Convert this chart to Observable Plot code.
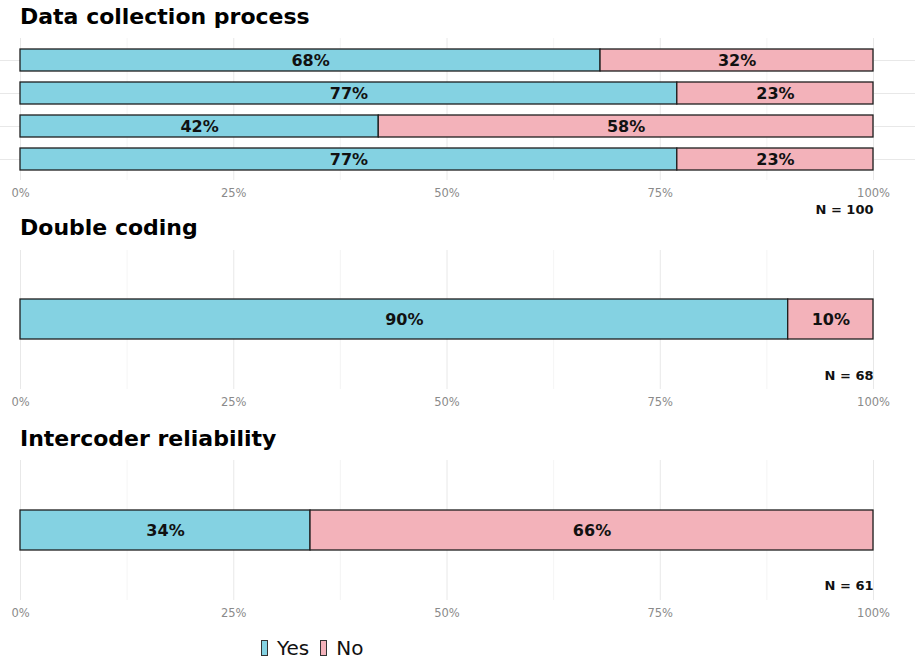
<!DOCTYPE html>
<html>
<head>
<meta charset="utf-8">
<script src="https://cdn.jsdelivr.net/npm/d3@7"></script>
<script src="https://cdn.jsdelivr.net/npm/@observablehq/plot@0.6"></script>
<style>
  body { margin: 0; background: #fff; font-family: "DejaVu Sans", sans-serif; }
  #root { position: relative; width: 915px; height: 659px; overflow: hidden; background: #fff; }
  .title { position: absolute; left: 20px; font-weight: bold; font-size: 22px; line-height: 22px; color: #000; white-space: nowrap; }
  .panel { position: absolute; left: 0; }
  .legend { position: absolute; left: 261px; top: 636px; height: 24px; display: flex; align-items: center; font-size: 20px; color: #111; }
  .sw { width: 5px; height: 14px; border: 1px solid #333; box-sizing: content-box; }
  .lab { margin-left: 9px; margin-right: 11px; }
</style>
</head>
<body>
<div id="root"></div>
<script>
// ---- data ----
const responses = ["Yes", "No"];
const responseColors = ["#84d2e2", "#f3b2ba"];
const panelTitles = ["Data collection process", "Double coding", "Intercoder reliability"];
const nLabels = ["N = 100", "N = 68", "N = 61"];
const xTicks = [0, 25, 50, 75, 100];
const xMinorTicks = [12.5, 37.5, 62.5, 87.5];

const dataCollectionItems = ["Item 1", "Item 2", "Item 3", "Item 4"];
const dataCollectionYes = [68, 77, 42, 77];
const dataCollectionNo = [32, 23, 58, 23];

const doubleCodingItems = ["Double coding"];
const doubleCodingYes = [90];
const doubleCodingNo = [10];

const intercoderItems = ["Intercoder reliability"];
const intercoderYes = [34];
const intercoderNo = [66];

// ---- layout ----
const root = document.getElementById("root");

function rowsFor(items, yes, no) {
  return items.flatMap((it, i) => [
    {item: it, response: "Yes", value: yes[i]},
    {item: it, response: "No", value: no[i]}
  ]);
}

function panel({items, yes, no, nLabel, top, height, marginTop, marginBottom, paddingInner, paddingOuter, hGrid, nDy}) {
  const rows = rowsFor(items, yes, no);
  const svg = Plot.plot({
    width: 915,
    height,
    marginLeft: 20,
    marginRight: 42,
    marginTop,
    marginBottom,
    style: {fontFamily: "DejaVu Sans", fontSize: "11.5px", background: "transparent", overflow: "visible"},
    x: {domain: [0, 100], axis: null, label: null},
    y: {domain: items, axis: null, label: null, paddingInner, paddingOuter},
    color: {domain: responses, range: responseColors},
    marks: [
      Plot.ruleX(xMinorTicks, {stroke: "#efefef", strokeWidth: 0.7}),
      Plot.ruleX(xTicks, {stroke: "#e8e8e8", strokeWidth: 1}),
      hGrid ? Plot.ruleY(items, {stroke: "#e8e8e8", strokeWidth: 1, insetLeft: -20, insetRight: -42}) : null,
      Plot.barX(rows, Plot.stackX({x: "value", y: "item", fill: "response", order: responses, stroke: "#1e1e1e", strokeWidth: 1.3})),
      Plot.text(rows, Plot.stackX({x: "value", y: "item", z: "response", order: responses, text: d => d.value + "%", fontWeight: "bold", fontSize: 16, fill: "#111"})),
      Plot.axisX(xTicks, {tickFormat: d => d + "%", tickSize: 0, tickPadding: 8, color: "#8a8a8a", label: null}),
      Plot.text([nLabel], {frameAnchor: "bottom-right", dy: nDy, textAnchor: "end", fontWeight: "bold", fontSize: 13, fill: "#111"})
    ]
  });
  const wrap = document.createElement("div");
  wrap.className = "panel";
  wrap.style.top = top + "px";
  wrap.appendChild(svg);
  root.appendChild(wrap);
}

function title(text, top) {
  const d = document.createElement("div");
  d.className = "title";
  d.style.top = top + "px";
  d.textContent = text;
  root.appendChild(d);
}

panel({items: dataCollectionItems, yes: dataCollectionYes, no: dataCollectionNo, nLabel: nLabels[0],
  top: 30, height: 190, marginTop: 8, marginBottom: 40, paddingInner: 0.34, paddingOuter: 0.27, hGrid: true, nDy: 33});
panel({items: doubleCodingItems, yes: doubleCodingYes, no: doubleCodingNo, nLabel: nLabels[1],
  top: 244, height: 167, marginTop: 6, marginBottom: 22, paddingInner: 0.34, paddingOuter: 0.8, hGrid: false, nDy: -10});
panel({items: intercoderItems, yes: intercoderYes, no: intercoderNo, nLabel: nLabels[2],
  top: 454, height: 168, marginTop: 6, marginBottom: 22, paddingInner: 0.34, paddingOuter: 0.8, hGrid: false, nDy: -11});

title(panelTitles[0], 6);
title(panelTitles[1], 217);
title(panelTitles[2], 428);

// legend
const legend = document.createElement("div");
legend.className = "legend";
responses.forEach((r, i) => {
  const sw = document.createElement("div");
  sw.className = "sw";
  sw.style.background = responseColors[i];
  const lab = document.createElement("span");
  lab.className = "lab";
  lab.textContent = r;
  legend.appendChild(sw);
  legend.appendChild(lab);
});
root.appendChild(legend);
</script>
</body>
</html>
